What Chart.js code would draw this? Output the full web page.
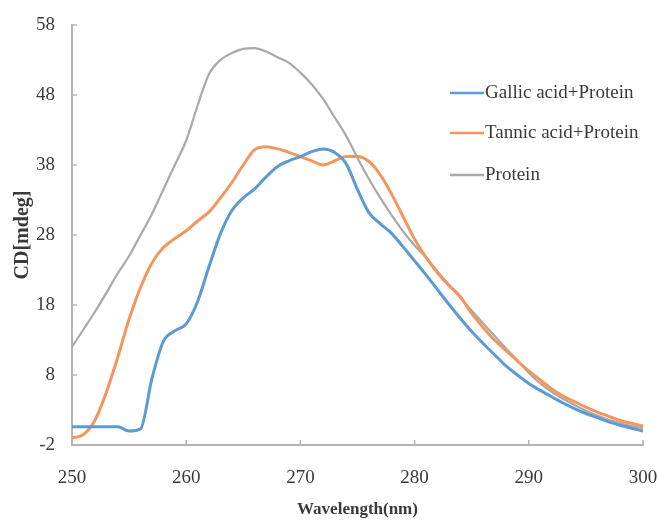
<!DOCTYPE html>
<html>
<head>
<meta charset="utf-8">
<script src="https://cdn.jsdelivr.net/npm/chart.js@4.4.0/dist/chart.umd.min.js"></script>
<style>
    html, body { margin: 0; padding: 0; background: #ffffff; }
    #wrap { width: 659px; height: 522px; }
</style>
</head>
<body>
<div id="wrap"><canvas id="cdChart" width="659" height="522"></canvas></div>
<script>
// Длины волн (нм) и значения КД (mdeg)
const wavelengths = [
    250, 251, 252, 253, 254, 255, 256, 257, 258, 259,
    260, 261, 262, 263, 264, 265, 266, 267, 268, 269,
    270, 271, 272, 273, 274, 275, 276, 277, 278, 279,
    280, 281, 282, 283, 284, 285, 286, 287, 288, 289,
    290, 291, 292, 293, 294, 295, 296, 297, 298, 299, 300
];

const gallicProtein = [
    0.6, 0.6, 0.6, 0.6, 0.6, 0.0, 0.3, 7.5, 12.8, 14.3,
    15.3, 18.5, 23.5, 28.2, 31.5, 33.3, 34.6, 36.3, 37.8, 38.6,
    39.2, 39.9, 40.3, 39.8, 38.2, 34.5, 31.2, 29.6, 28.2, 26.3,
    24.3, 22.3, 20.2, 18.1, 16.1, 14.2, 12.5, 10.9, 9.3, 8.0,
    6.8, 5.8, 4.9, 4.0, 3.2, 2.5, 1.9, 1.3, 0.8, 0.4, 0.0
];

const tannicProtein = [
    -1.0, -0.5, 1.5, 5.5, 10.5, 16.0, 20.5, 24.0, 26.2, 27.5,
    28.6, 30.0, 31.3, 33.3, 35.5, 38.0, 40.2, 40.6, 40.3, 39.8,
    39.2, 38.6, 38.0, 38.6, 39.2, 39.2, 38.5, 36.6, 33.8, 30.6,
    27.4, 24.8, 22.6, 20.8, 19.2, 16.8, 14.8, 13.0, 11.5, 10.0,
    8.6, 7.3, 6.0, 5.0, 4.2, 3.4, 2.7, 2.1, 1.5, 1.1, 0.7
];

const protein = [
    12.0, 14.5, 17.0, 19.7, 22.5, 25.0, 28.0, 31.0, 34.5, 38.0,
    41.5, 46.5, 51.0, 53.0, 54.0, 54.6, 54.7, 54.2, 53.4, 52.6,
    51.2, 49.5, 47.4, 44.8, 42.2, 39.0, 36.0, 33.3, 30.8, 28.5,
    26.5, 24.8, 22.8, 20.9, 19.0, 17.2, 15.4, 13.6, 11.8, 10.1,
    8.3, 6.8, 5.6, 4.6, 3.7, 2.9, 2.2, 1.6, 1.1, 0.7, 0.4
];

const seriesLabels = ['Gallic acid+Protein', 'Tannic acid+Protein', 'Protein'];
const xTicks = [250, 260, 270, 280, 290, 300];
const yTicks = [-2, 8, 18, 28, 38, 48, 58];

const axisColor = '#b4b4b4';
const textColor = '#3a3a3a';

function toPoints(values) {
    return wavelengths.map((w, i) => ({ x: w, y: values[i] }));
}

// Короткие риски внутрь области графика
const innerTicks = {
    id: 'innerTicks',
    afterDraw(chart) {
        const ctx = chart.ctx;
        const area = chart.chartArea;
        const xs = chart.scales.x;
        const ys = chart.scales.y;
        ctx.save();
        ctx.strokeStyle = axisColor;
        ctx.lineWidth = 1.5;
        ctx.beginPath();
        yTicks.forEach(v => {
            const py = ys.getPixelForValue(v);
            ctx.moveTo(area.left, py);
            ctx.lineTo(area.left + 5, py);
        });
        xTicks.forEach(v => {
            const px = xs.getPixelForValue(v);
            ctx.moveTo(px, area.bottom);
            ctx.lineTo(px, area.bottom - 5);
        });
        ctx.stroke();
        ctx.restore();
    }
};

// Легенда внутри области графика, справа сверху
const insideLegend = {
    id: 'insideLegend',
    afterDraw(chart) {
        const ctx = chart.ctx;
        const rows = [93, 133, 175];
        ctx.save();
        ctx.font = '19px "Liberation Serif", serif';
        ctx.textBaseline = 'middle';
        ctx.textAlign = 'left';
        chart.data.datasets.forEach((ds, i) => {
            const y = rows[i];
            ctx.strokeStyle = ds.borderColor;
            ctx.lineWidth = 2.5;
            ctx.beginPath();
            ctx.moveTo(450, y);
            ctx.lineTo(484, y);
            ctx.stroke();
            ctx.fillStyle = textColor;
            ctx.fillText(ds.label, 485, y);
        });
        ctx.restore();
    }
};

const cdChart = new Chart(document.getElementById('cdChart'), {
    type: 'line',
    data: {
        datasets: [
            {
                label: seriesLabels[0],
                data: toPoints(gallicProtein),
                borderColor: '#5b9bd5',
                borderWidth: 3,
                pointRadius: 0,
                cubicInterpolationMode: 'monotone'
            },
            {
                label: seriesLabels[1],
                data: toPoints(tannicProtein),
                borderColor: '#f4965c',
                borderWidth: 3,
                pointRadius: 0,
                cubicInterpolationMode: 'monotone'
            },
            {
                label: seriesLabels[2],
                data: toPoints(protein),
                borderColor: '#a9a9a9',
                borderWidth: 2.2,
                pointRadius: 0,
                cubicInterpolationMode: 'monotone'
            }
        ]
    },
    options: {
        responsive: false,
        animation: false,
        devicePixelRatio: 1,
        layout: { padding: { left: 0, right: 16, top: 25, bottom: 0 } },
        plugins: {
            legend: { display: false },
            tooltip: { enabled: false }
        },
        scales: {
            x: {
                type: 'linear',
                min: 250,
                max: 300,
                afterBuildTicks: scale => { scale.ticks = xTicks.map(v => ({ value: v })); },
                afterFit: scale => {
                    scale.height = 77;
                    scale.paddingLeft = 0;
                    scale.paddingRight = 0;
                },
                grid: { display: false, drawTicks: false },
                border: { display: true, color: axisColor, width: 2 },
                ticks: {
                    padding: 22,
                    color: textColor,
                    font: { family: '"Liberation Serif", serif', size: 19 }
                },
                title: {
                    display: true,
                    text: 'Wavelength(nm)',
                    color: textColor,
                    padding: { top: 0, bottom: 2 },
                    font: { family: '"Liberation Serif", serif', size: 17, weight: 'bold' }
                }
            },
            y: {
                min: -2,
                max: 58,
                afterBuildTicks: scale => { scale.ticks = yTicks.map(v => ({ value: v })); },
                afterFit: scale => {
                    scale.width = 72;
                    scale.paddingTop = 0;
                    scale.paddingBottom = 0;
                },
                grid: { display: false, drawTicks: false },
                border: { display: true, color: axisColor, width: 2 },
                ticks: {
                    padding: 17,
                    color: textColor,
                    font: { family: '"Liberation Serif", serif', size: 19 }
                },
                title: {
                    display: true,
                    text: 'CD[mdeg]',
                    color: textColor,
                    padding: { top: 11, bottom: 0 },
                    font: { family: '"Liberation Serif", serif', size: 20, weight: 'bold' }
                }
            }
        }
    },
    plugins: [innerTicks, insideLegend]
});
</script>
</body>
</html>
